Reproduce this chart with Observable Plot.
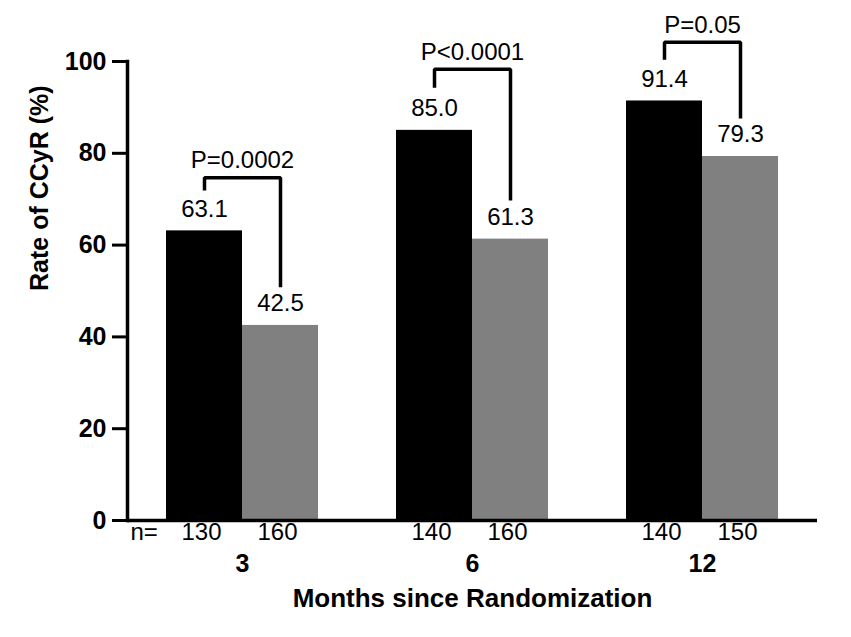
<!DOCTYPE html>
<html>
<head>
<meta charset="utf-8">
<script src="https://cdn.jsdelivr.net/npm/d3@7"></script>
<script src="https://cdn.jsdelivr.net/npm/@observablehq/plot@0.6"></script>
<style>
  html, body { margin: 0; padding: 0; background: #fff; }
</style>
</head>
<body>
<div id="chart"></div>
<script>
// ---- data ----
const months = ["3", "6", "12"];
const arms = ["A", "B"];                 // A = black bars, B = gray bars
const armColors = ["#000000", "#808080"];
const valuesA = [63.1, 85.0, 91.4];
const valuesB = [42.5, 61.3, 79.3];
const nA = [130, 140, 140];
const nB = [160, 160, 150];
const pLabels = ["P=0.0002", "P<0.0001", "P=0.05"];
const bracketTop = [74.7, 98.3, 104.2];
const bracketLeftEnd = [71.9, 94.3, 100.4];
const bracketRightEnd = [50.8, 69.7, 87.6];
const yTicks = [0, 20, 40, 60, 80, 100];
const yTitle = "Rate of CCyR (%)";
const xTitle = "Months since Randomization";

// ---- tables built from the arrays ----
const rows = [];
months.forEach((m, i) => {
  rows.push({month: m, arm: "A", value: valuesA[i], n: nA[i]});
  rows.push({month: m, arm: "B", value: valuesB[i], n: nB[i]});
});
const brackets = [];
months.forEach((m, i) => {
  brackets.push({month: m, arm: "A", y: bracketLeftEnd[i]});
  brackets.push({month: m, arm: "A", y: bracketTop[i]});
  brackets.push({month: m, arm: "B", y: bracketTop[i]});
  brackets.push({month: m, arm: "B", y: bracketRightEnd[i]});
});
const pRows = months.map((m, i) => ({month: m, top: bracketTop[i], p: pLabels[i]}));

const font = "'Liberation Sans', Arial, Helvetica, sans-serif";

const chart = Plot.plot({
  width: 851,
  height: 637,
  marginLeft: 126,
  marginRight: 33,
  marginTop: 61,
  marginBottom: 117,
  style: {fontFamily: font, background: "#fff", color: "#000", overflow: "visible"},
  fx: {domain: months, padding: 0, axis: null, label: null},
  x: {domain: arms, paddingInner: 0, paddingOuter: 0.5, axis: null, label: null},
  y: {domain: [0, 100], axis: null, label: null},
  color: {domain: arms, range: armColors},
  marks: [
    Plot.barY(rows, {fx: "month", x: "arm", y: "value", fill: "arm"}),
    Plot.ruleY([0], {strokeWidth: 3.5, stroke: "#000"}),
    Plot.frame({anchor: "left", facetAnchor: "left", strokeWidth: 3.5, stroke: "#000"}),
    Plot.axisY({
      ticks: yTicks, tickSize: 15, tickPadding: 6, strokeWidth: 3,
      fontSize: 25, fontWeight: "bold", label: null, tickFormat: d => String(d)
    }),
    Plot.text(rows, {
      fx: "month", x: "arm", y: "value", text: d => d.value.toFixed(1),
      dy: -22, fontSize: 24
    }),
    Plot.line(brackets, {
      fx: "month", x: "arm", y: "y", z: "month",
      stroke: "#000", strokeWidth: 3.5, strokeLinejoin: "miter", strokeLinecap: "butt"
    }),
    Plot.text(pRows, {fx: "month", y: "top", text: "p", dy: -17, fontSize: 24}),
    Plot.text(rows, {
      fx: "month", x: "arm", text: d => String(d.n),
      frameAnchor: "bottom", dy: 19, dx: -3, fontSize: 24
    }),
    Plot.text([{month: months[0], t: "n="}], {
      fx: "month", text: "t", frameAnchor: "bottom-left", textAnchor: "start",
      dx: 3, dy: 19, fontSize: 24
    }),
    Plot.text(months.map(m => ({month: m})), {
      fx: "month", text: "month", frameAnchor: "bottom", dy: 51,
      fontSize: 25, fontWeight: "bold"
    }),
    Plot.text([{month: months[0], t: yTitle}], {
      fx: "month", text: "t", frameAnchor: "left", rotate: -90, dx: -88,
      fontSize: 25, fontWeight: "bold"
    }),
    Plot.text([{month: months[1], t: xTitle}], {
      fx: "month", text: "t", frameAnchor: "bottom", dy: 86,
      fontSize: 26, fontWeight: "bold"
    })
  ]
});
document.getElementById("chart").appendChild(chart);
</script>
</body>
</html>
